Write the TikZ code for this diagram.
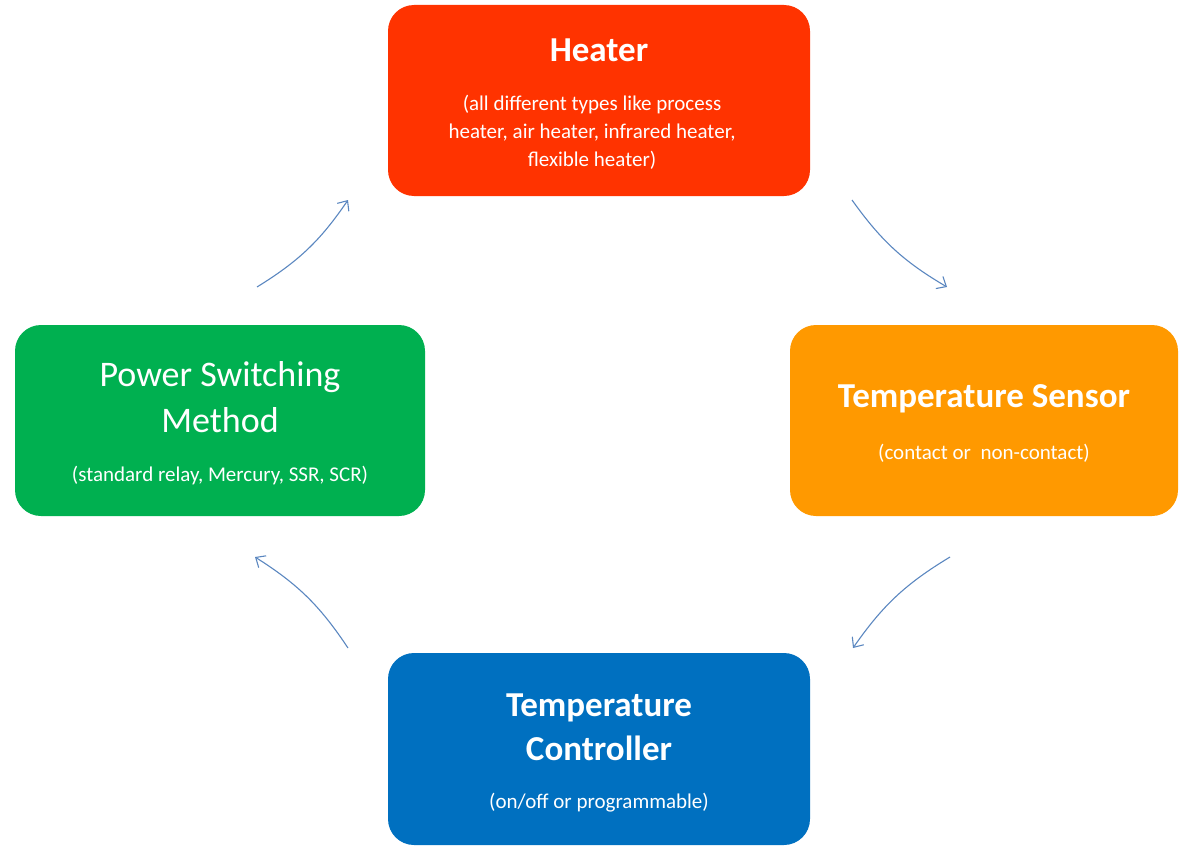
\documentclass[tikz,border=0pt]{standalone}
\usepackage{fontspec}
\setmainfont{Carlito}
\usetikzlibrary{arrows.meta}
\definecolor{cred}{HTML}{FF3300}
\definecolor{corange}{HTML}{FF9900}
\definecolor{cblue}{HTML}{0070C0}
\definecolor{cgreen}{HTML}{00B050}
\definecolor{carrow}{HTML}{5B87C0}
\tikzset{
  box/.style={rounded corners=26pt, text=white, align=center, inner sep=0pt},
  ttl/.style={font=\fontsize{35}{40}\selectfont\bfseries},
  sub/.style={font=\fontsize{21}{28}\selectfont},
  conn/.style={draw=carrow, line width=1.1pt, -{Straight Barb[length=8pt,width=14pt]}}
}
\begin{document}
\begin{tikzpicture}[x=1pt,y=-1pt]
\useasboundingbox (0,0) rectangle (1189,851);
\fill[cred, rounded corners=26pt] (388,5) rectangle (810,196);
\fill[corange, rounded corners=26pt] (790,325) rectangle (1178,516);
\fill[cblue, rounded corners=26pt] (388,653) rectangle (810,845);
\fill[cgreen, rounded corners=26pt] (15,325) rectangle (425,516);
\node[box,ttl] (h) at (599,50) {Heater};
\node[box,sub] (hs) at (592,132) {(all different types like process\\heater, air heater, infrared heater,\\flexible heater)};
\node[box,ttl] (s) at (984,399) {Temperature Sensor};
\node[box,sub] (ss) at (984,453) {(contact or\ \ non-contact)};
\node[box,ttl,font=\fontsize{35}{44}\selectfont\bfseries] (c) at (599,727) {Temperature\\Controller};
\node[box,sub] (cs) at (599,803) {(on/off or programmable)};
\node[box,font=\fontsize{36}{46}\selectfont] (p) at (220,397) {Power Switching\\Method};
\node[box,sub] (ps) at (220,476) {(standard relay, Mercury, SSR, SCR)};
\coordinate (a1) at (257,287); \coordinate (b1) at (348,200);
\coordinate (a2) at (852,200); \coordinate (b2) at (947,287);
\coordinate (a3) at (950,557); \coordinate (b3) at (853,648);
\coordinate (a4) at (348,648); \coordinate (b4) at (255,557);
\draw[conn] (a1) to[bend right=12] (b1);
\draw[conn] (a2) to[bend right=12] (b2);
\draw[conn] (a3) to[bend right=12] (b3);
\draw[conn] (a4) to[bend right=12] (b4);
\end{tikzpicture}
\end{document}
